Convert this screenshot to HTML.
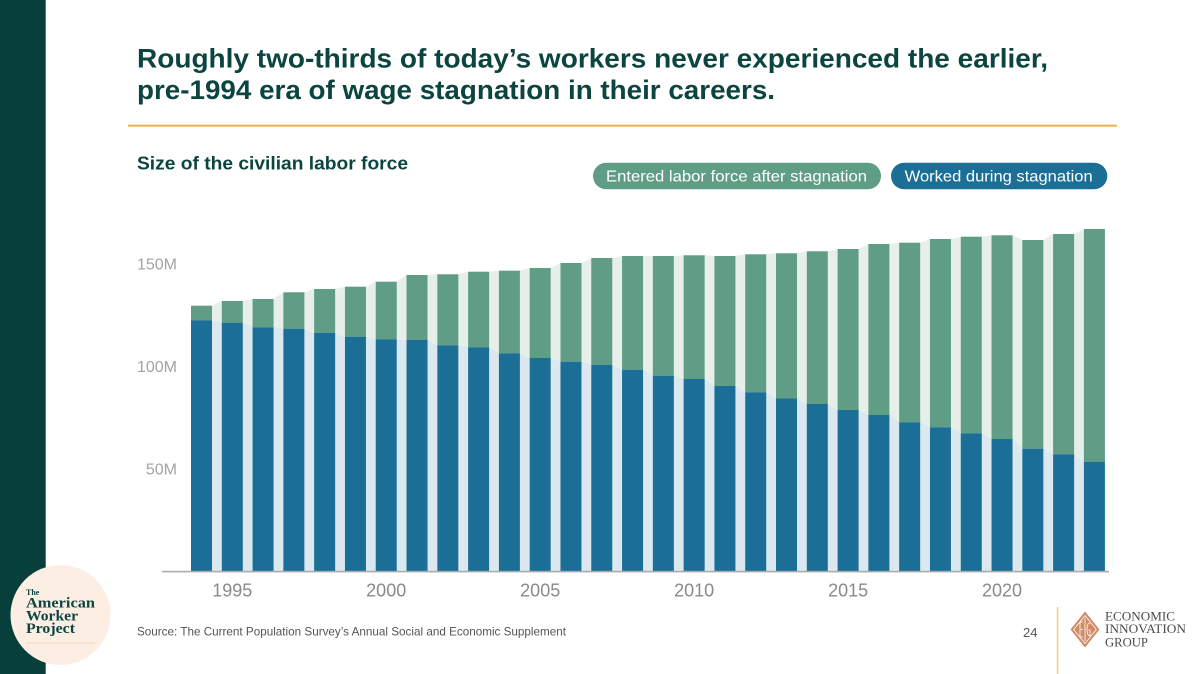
<!DOCTYPE html>
<html>
<head>
<meta charset="utf-8">
<style>
  html,body{margin:0;padding:0;background:#fff;}
  svg{display:block;}
  .t{font-family:"Liberation Sans",sans-serif;}
  .s{font-family:"Liberation Serif",serif;}
</style>
</head>
<body>
<svg width="1200" height="674" viewBox="0 0 1200 674" xmlns="http://www.w3.org/2000/svg">
  <rect x="0" y="0" width="1200" height="674" fill="#ffffff"/>
  <!-- left sidebar -->
  <rect x="0" y="0" width="45.7" height="674" fill="#073f3a"/>

  <!-- Title -->
  <text class="t" x="137" y="67.5" font-size="27" font-weight="bold" fill="#0c4540" textLength="911" lengthAdjust="spacingAndGlyphs">Roughly two-thirds of today’s workers never experienced the earlier,</text>
  <text class="t" x="137" y="99" font-size="27" font-weight="bold" fill="#0c4540" textLength="638" lengthAdjust="spacingAndGlyphs">pre-1994 era of wage stagnation in their careers.</text>
  <rect x="128" y="124.7" width="989" height="2" fill="#e6b54a"/>

  <!-- Subtitle -->
  <text class="t" x="137" y="169.3" font-size="18.5" font-weight="bold" fill="#0c4540" textLength="271" lengthAdjust="spacingAndGlyphs">Size of the civilian labor force</text>

  <!-- Legend -->
  <rect x="593" y="162.7" width="288" height="26.6" rx="13.3" ry="13.3" fill="#5f9e85"/>
  <text class="t" x="606" y="181.5" font-size="16" fill="#ffffff" textLength="261" lengthAdjust="spacingAndGlyphs">Entered labor force after stagnation</text>
  <rect x="891" y="162.7" width="216.3" height="26.6" rx="13.3" ry="13.3" fill="#1b6f96"/>
  <text class="t" x="904.7" y="181.5" font-size="16" fill="#ffffff" textLength="188" lengthAdjust="spacingAndGlyphs">Worked during stagnation</text>

  <!-- Y labels -->
  <g class="t" font-size="16" fill="#a3a3a3" text-anchor="end">
    <text x="177" y="269.5">150M</text>
    <text x="177" y="372">100M</text>
    <text x="177" y="474.5">50M</text>
  </g>

  <g id="chart"></g>

  <!-- axis line -->
  <rect x="162" y="570.8" width="947" height="1.6" fill="#ababab"/>

  <!-- X labels -->
  <g class="t" font-size="18" fill="#8a8a8a" text-anchor="middle">
    <text x="232.3" y="596.5">1995</text>
    <text x="386.2" y="596.5">2000</text>
    <text x="540.2" y="596.5">2005</text>
    <text x="694.1" y="596.5">2010</text>
    <text x="848.1" y="596.5">2015</text>
    <text x="1002" y="596.5">2020</text>
  </g>

  <!-- Source -->
  <text class="t" x="137" y="635.5" font-size="12" fill="#555555" textLength="429" lengthAdjust="spacingAndGlyphs">Source: The Current Population Survey’s Annual Social and Economic Supplement</text>

  <!-- page number -->
  <text class="t" x="1023" y="637" font-size="13" fill="#555555">24</text>
  <rect x="1056.8" y="607" width="1.6" height="67" fill="#f0cf88"/>

  <!-- EIG logo -->
  <polygon points="1085,611.5 1099.5,629.5 1085,647.5 1070.5,629.5" fill="#d08a66"/>
  <polygon points="1085,615.5 1096.3,629.5 1085,643.5 1073.7,629.5" fill="none" stroke="#ffffff" stroke-width="0.8"/>
  <line x1="1085" y1="618" x2="1085" y2="641" stroke="#fff" stroke-width="0.8"/>
  <path d="M1080,622 L1080,637 M1080,622 L1083,622 M1080,629.5 L1083,629.5 M1080,637 L1083,637" stroke="#fff" stroke-width="0.8" fill="none"/>
  <path d="M1090,623 Q1087,623 1087,629.5 Q1087,636 1090,636 L1090,630 L1088.5,630" stroke="#fff" stroke-width="0.8" fill="none"/>
  <g class="s" font-size="13" fill="#4a4a4a">
    <text x="1105" y="620.5" textLength="70" lengthAdjust="spacingAndGlyphs">ECONOMIC</text>
    <text x="1105" y="633" textLength="81" lengthAdjust="spacingAndGlyphs">INNOVATION</text>
    <text x="1105" y="646.5" textLength="43" lengthAdjust="spacingAndGlyphs">GROUP</text>
  </g>

  <!-- American Worker Project logo -->
  <circle cx="60.5" cy="615" r="50" fill="#fdeee4"/>
  <g class="s" font-weight="bold" fill="#0c4540">
    <text x="26" y="595" font-size="8">The</text>
    <text x="26" y="607.5" font-size="15" textLength="69" lengthAdjust="spacingAndGlyphs">American</text>
    <text x="26" y="620.5" font-size="15" textLength="52" lengthAdjust="spacingAndGlyphs">Worker</text>
    <text x="26" y="633" font-size="15" textLength="49" lengthAdjust="spacingAndGlyphs">Project</text>
  </g>
  <rect x="26" y="642.5" width="69" height="1" fill="#f1d6c0"/>
</svg>
<script>
(function(){
  var g = [305.7,301,299,292.3,289,286.7,281.7,275,274.3,271.7,270.7,268,263,258,256,256,255.3,256,254.3,253.3,251.3,249,244,242.7,239,236.7,235.3,240,234,229];
  var b = [320.3,322.7,327.3,328.7,333,336.7,339.3,340,345.3,347.3,353.3,358,361.7,364.7,369.7,375.7,379,386,392.3,398.5,404,410,415,422.3,427.3,433.3,439,448.7,454.3,461.7];
  var base = 571, x0 = 191, pitch = 30.79, w = 21;
  var ns = "http://www.w3.org/2000/svg";
  var chart = document.getElementById("chart");
  function poly(arr, fill){
    var pts = [];
    for (var i=0;i<arr.length;i++){
      var xl = x0 + i*pitch, xr = xl + w;
      pts.push(xl.toFixed(2)+","+arr[i]);
      pts.push(xr.toFixed(2)+","+arr[i]);
    }
    var last = x0 + (arr.length-1)*pitch + w;
    pts.push(last.toFixed(2)+","+base);
    pts.push(x0+","+base);
    var p = document.createElementNS(ns,"polygon");
    p.setAttribute("points", pts.join(" "));
    p.setAttribute("fill", fill);
    chart.appendChild(p);
  }
  poly(g, "#e6efea");
  poly(b, "#dce8ef");
  for (var i=0;i<g.length;i++){
    var xl = x0 + i*pitch;
    var r1 = document.createElementNS(ns,"rect");
    r1.setAttribute("x", xl.toFixed(2)); r1.setAttribute("y", g[i]);
    r1.setAttribute("width", w); r1.setAttribute("height", (b[i]-g[i]).toFixed(2));
    r1.setAttribute("fill", "#5f9e85");
    chart.appendChild(r1);
    var r2 = document.createElementNS(ns,"rect");
    r2.setAttribute("x", xl.toFixed(2)); r2.setAttribute("y", b[i]);
    r2.setAttribute("width", w); r2.setAttribute("height", (base-b[i]).toFixed(2));
    r2.setAttribute("fill", "#1b6f96");
    chart.appendChild(r2);
  }
})();
</script>
</body>
</html>
